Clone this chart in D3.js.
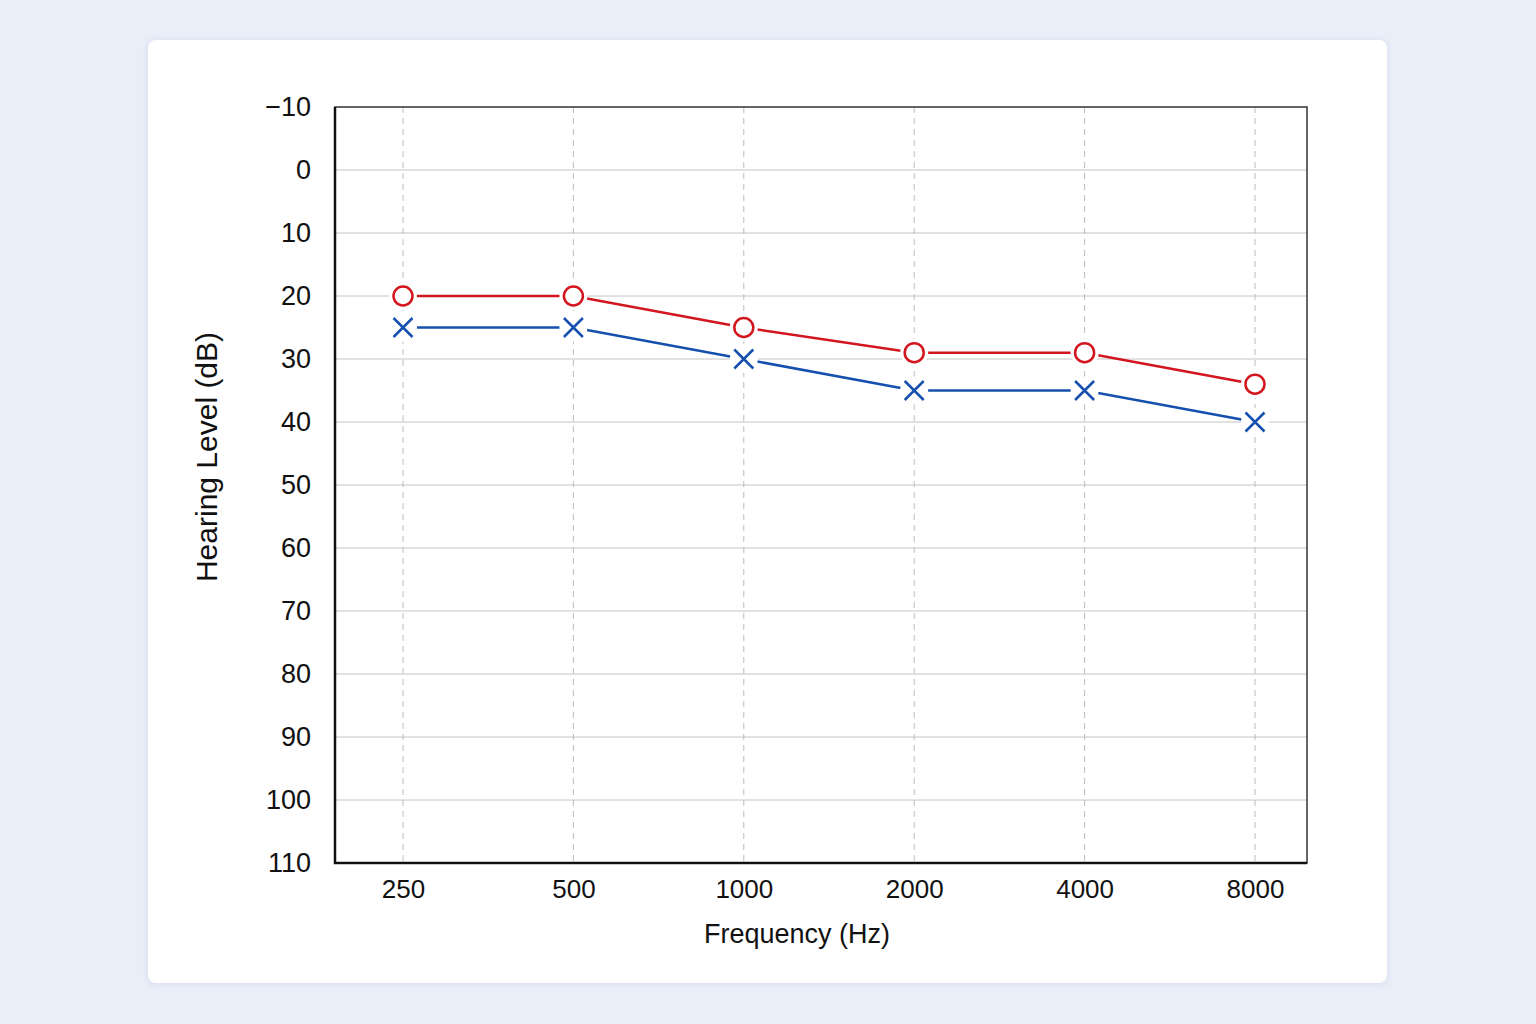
<!DOCTYPE html>
<html lang="en">
<head>
    <meta charset="UTF-8">
    <title>Audiogram</title>
</head>

<style>

body {
    margin: 0;
    background: #e9eef8;
}

.card {
    position: absolute;
    left: 148px;
    top: 40px;
    width: 1239px;
    height: 943px;
    background: #ffffff;
    border-radius: 8px;
    box-shadow: 0 1px 6px rgba(120, 140, 180, 0.18);
}

svg {
    position: absolute;
    left: 0;
    top: 0;
}

text {
    font-family: 'Liberation Sans', Arial, sans-serif;
    fill: #111;
}

.grid line {
    stroke: #c4c4c4;
    stroke-width: 1;
}

.vgrid line {
    stroke: #bdbdbd;
    stroke-width: 1;
    stroke-dasharray: 6, 5;
}

</style>

<body>
<div class="card"></div>
<svg height="1024" width="1536"></svg>

<script src="https://d3js.org/d3.v7.min.js"></script>

<script>

    // audiogram values (dB HL)
    var frequencies = [250, 500, 1000, 2000, 4000, 8000];
    var rightEar = [20, 20, 25, 29, 29, 34];
    var leftEar = [25, 25, 30, 35, 35, 40];
    var levelTicks = [-10, 0, 10, 20, 30, 40, 50, 60, 70, 80, 90, 100, 110];

    var translate = function(left, top) {
        return "translate(" + left + "," + top + ")";
    };

    var svg = d3.select("svg"),
        margins = {top: 107, left: 335},
        width = 972,
        height = 756;

    var chart = svg.append("g")
        .attr("transform", translate(margins.left, margins.top));

    var x = d3.scaleLog().base(2).domain([250, 8000]).range([68, 920]);
    var y = d3.scaleLinear().domain([-10, 110]).range([0, height]);

    // horizontal grid
    chart.append("g")
        .attr("class", "grid")
        .selectAll("line")
        .data(levelTicks.slice(1, -1))
        .enter()
        .append("line")
        .attr("x1", 0)
        .attr("x2", width)
        .attr("y1", function(d) { return y(d); })
        .attr("y2", function(d) { return y(d); });

    // vertical dashed grid
    chart.append("g")
        .attr("class", "vgrid")
        .selectAll("line")
        .data(frequencies)
        .enter()
        .append("line")
        .attr("x1", function(d) { return x(d); })
        .attr("x2", function(d) { return x(d); })
        .attr("y1", 0)
        .attr("y2", height);

    // frame: thin top/right, heavy left/bottom
    chart.append("rect")
        .attr("width", width)
        .attr("height", height)
        .attr("fill", "none")
        .attr("stroke", "#333")
        .attr("stroke-width", 1.5);

    chart.append("path")
        .attr("d", "M0,0V" + height + "H" + width)
        .attr("fill", "none")
        .attr("stroke", "#111")
        .attr("stroke-width", 2.5);

    var yAxis = d3.axisLeft(y)
        .tickValues(levelTicks)
        .tickFormat(function(d) { return d < 0 ? "\u2212" + Math.abs(d) : d; })
        .tickSize(0)
        .tickPadding(24);

    var xAxis = d3.axisBottom(x)
        .tickValues(frequencies)
        .tickFormat(function(d) { return d; })
        .tickSize(0)
        .tickPadding(17);

    chart.append("g")
        .call(yAxis)
        .call(function(g) {
            g.select(".domain").remove();
            g.selectAll("text").attr("font-size", 27).attr("fill", "#111")
                .attr("font-family", "'Liberation Sans', Arial, sans-serif");
        });

    chart.append("g")
        .attr("transform", translate(0, height))
        .call(xAxis)
        .call(function(g) {
            g.select(".domain").remove();
            g.selectAll("text").attr("font-size", 26).attr("fill", "#111")
                .attr("font-family", "'Liberation Sans', Arial, sans-serif");
        });

    // axis titles
    svg.append("text")
        .attr("transform", translate(217, 457) + " rotate(-90)")
        .attr("text-anchor", "middle")
        .attr("font-size", 30)
        .text("Hearing Level (dB)");

    svg.append("text")
        .attr("x", 797)
        .attr("y", 943)
        .attr("text-anchor", "middle")
        .attr("font-size", 27)
        .text("Frequency (Hz)");

    var series = [
        {values: rightEar, color: "#d3151e", marker: "circle"},
        {values: leftEar, color: "#1650ae", marker: "cross"}
    ];

    var line = d3.line()
        .x(function(d, i) { return x(frequencies[i]); })
        .y(function(d) { return y(d); });

    series.forEach(function(s) {
        chart.append("path")
            .attr("d", line(s.values))
            .attr("fill", "none")
            .attr("stroke", s.color)
            .attr("stroke-width", 2.5);
    });

    series.forEach(function(s) {
        var marks = chart.selectAll(".m-" + s.marker)
            .data(s.values)
            .enter()
            .append("g")
            .attr("class", "m-" + s.marker)
            .attr("transform", function(d, i) { return translate(x(frequencies[i]), y(d)); });

        // white halo so the line stops short of the marker
        marks.append("circle")
            .attr("r", 14)
            .attr("fill", "#fff");

        if (s.marker == "circle") {
            marks.append("circle")
                .attr("r", 9.5)
                .attr("fill", "#fff")
                .attr("stroke", s.color)
                .attr("stroke-width", 2.5);
        } else {
            marks.append("path")
                .attr("d", "M-9.5,-9.5L9.5,9.5M-9.5,9.5L9.5,-9.5")
                .attr("stroke", s.color)
                .attr("stroke-width", 2.5)
                .attr("fill", "none");
        }
    });

</script>
</body>
</html>
